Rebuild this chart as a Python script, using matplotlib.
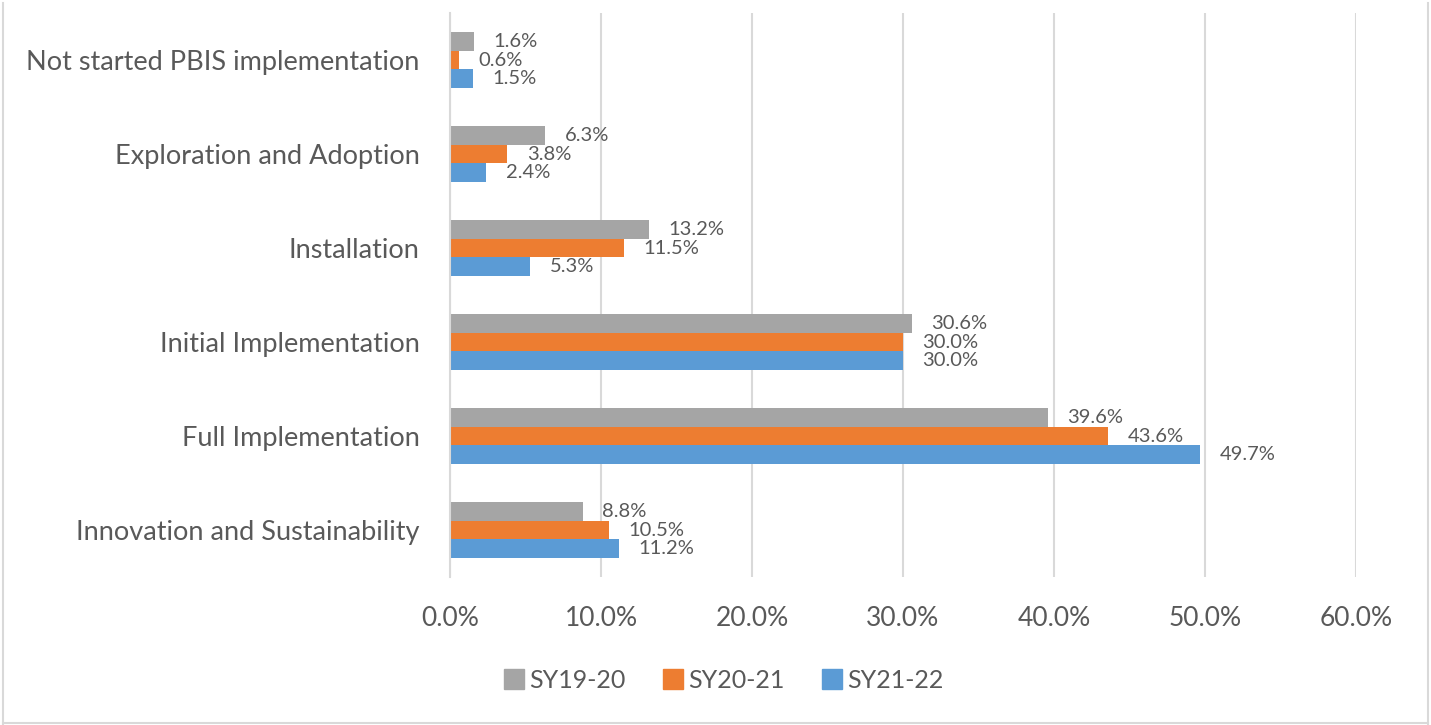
import numpy as np
import matplotlib
matplotlib.use('Agg')
import matplotlib.pyplot as plt
from matplotlib.lines import Line2D
from matplotlib.ticker import FuncFormatter

plt.rcParams['font.family'] = ['Lato', 'DejaVu Sans']

# 数据（从上到下）
categories = ['Not started PBIS implementation', 'Exploration and Adoption', 'Installation',
              'Initial Implementation', 'Full Implementation', 'Innovation and Sustainability']
series_names = ['SY19-20', 'SY20-21', 'SY21-22']
sy19_20 = [1.6, 6.3, 13.2, 30.6, 39.6, 8.8]
sy20_21 = [0.6, 3.8, 11.5, 30.0, 43.6, 10.5]
sy21_22 = [1.5, 2.4, 5.3, 30.0, 49.7, 11.2]
x_ticks = [0, 10, 20, 30, 40, 50, 60]

colors = ['#A5A5A5', '#ED7D31', '#5B9BD5']
text_color = '#595959'
grid_color = '#D9D9D9'

fig = plt.figure(figsize=(14.31, 7.25), dpi=100)
ax = fig.add_axes([0.3145, 0.204, 0.633, 0.778])

y = np.arange(len(categories))
h = 0.2
for i, (vals, c, name) in enumerate(zip([sy19_20, sy20_21, sy21_22], colors, series_names)):
    pos = y + (i - 1) * h
    ax.barh(pos, vals, height=h, color=c, label=name)
    for p, v in zip(pos, vals):
        ax.annotate(f'{v:.1f}%', (v, p), xytext=(14, 0), textcoords='offset points',
                    va='center', ha='left', fontsize=14.5, color=text_color)

ax.set_xlim(0, 60)
ax.set_ylim(len(categories) - 0.5, -0.5)
ax.set_xticks(x_ticks)
ax.xaxis.set_major_formatter(FuncFormatter(lambda v, _: f'{v:.1f}%'))
ax.set_yticks(y)
ax.set_yticklabels(categories)
ax.tick_params(axis='both', length=0, colors=text_color)
ax.tick_params(axis='x', pad=21, labelsize=19)
ax.tick_params(axis='y', pad=22, labelsize=19.5)
ax.grid(True, axis='x', color=grid_color, linewidth=1.5)
ax.set_axisbelow(True)
for s in ['top', 'right', 'bottom']:
    ax.spines[s].set_visible(False)
ax.spines['left'].set_color(grid_color)
ax.spines['left'].set_linewidth(1.5)

handles = [Line2D([], [], marker='s', linestyle='', markersize=14, color=c) for c in colors]
fig.legend(handles, series_names, loc='center', bbox_to_anchor=(0.505, 0.062), ncol=3,
           frameon=False, fontsize=18, labelcolor=text_color, handletextpad=0.1,
           columnspacing=1.4, handlelength=1.0)

# 外框
fig.add_artist(Line2D([0.002, 0.002], [0, 0.996], transform=fig.transFigure, color=grid_color, lw=1.5))
fig.add_artist(Line2D([0.998, 0.998], [0, 0.996], transform=fig.transFigure, color=grid_color, lw=1.5))
fig.add_artist(Line2D([0.002, 0.998], [0.003, 0.003], transform=fig.transFigure, color=grid_color, lw=1.5))

fig.savefig('out.png', dpi=100)
